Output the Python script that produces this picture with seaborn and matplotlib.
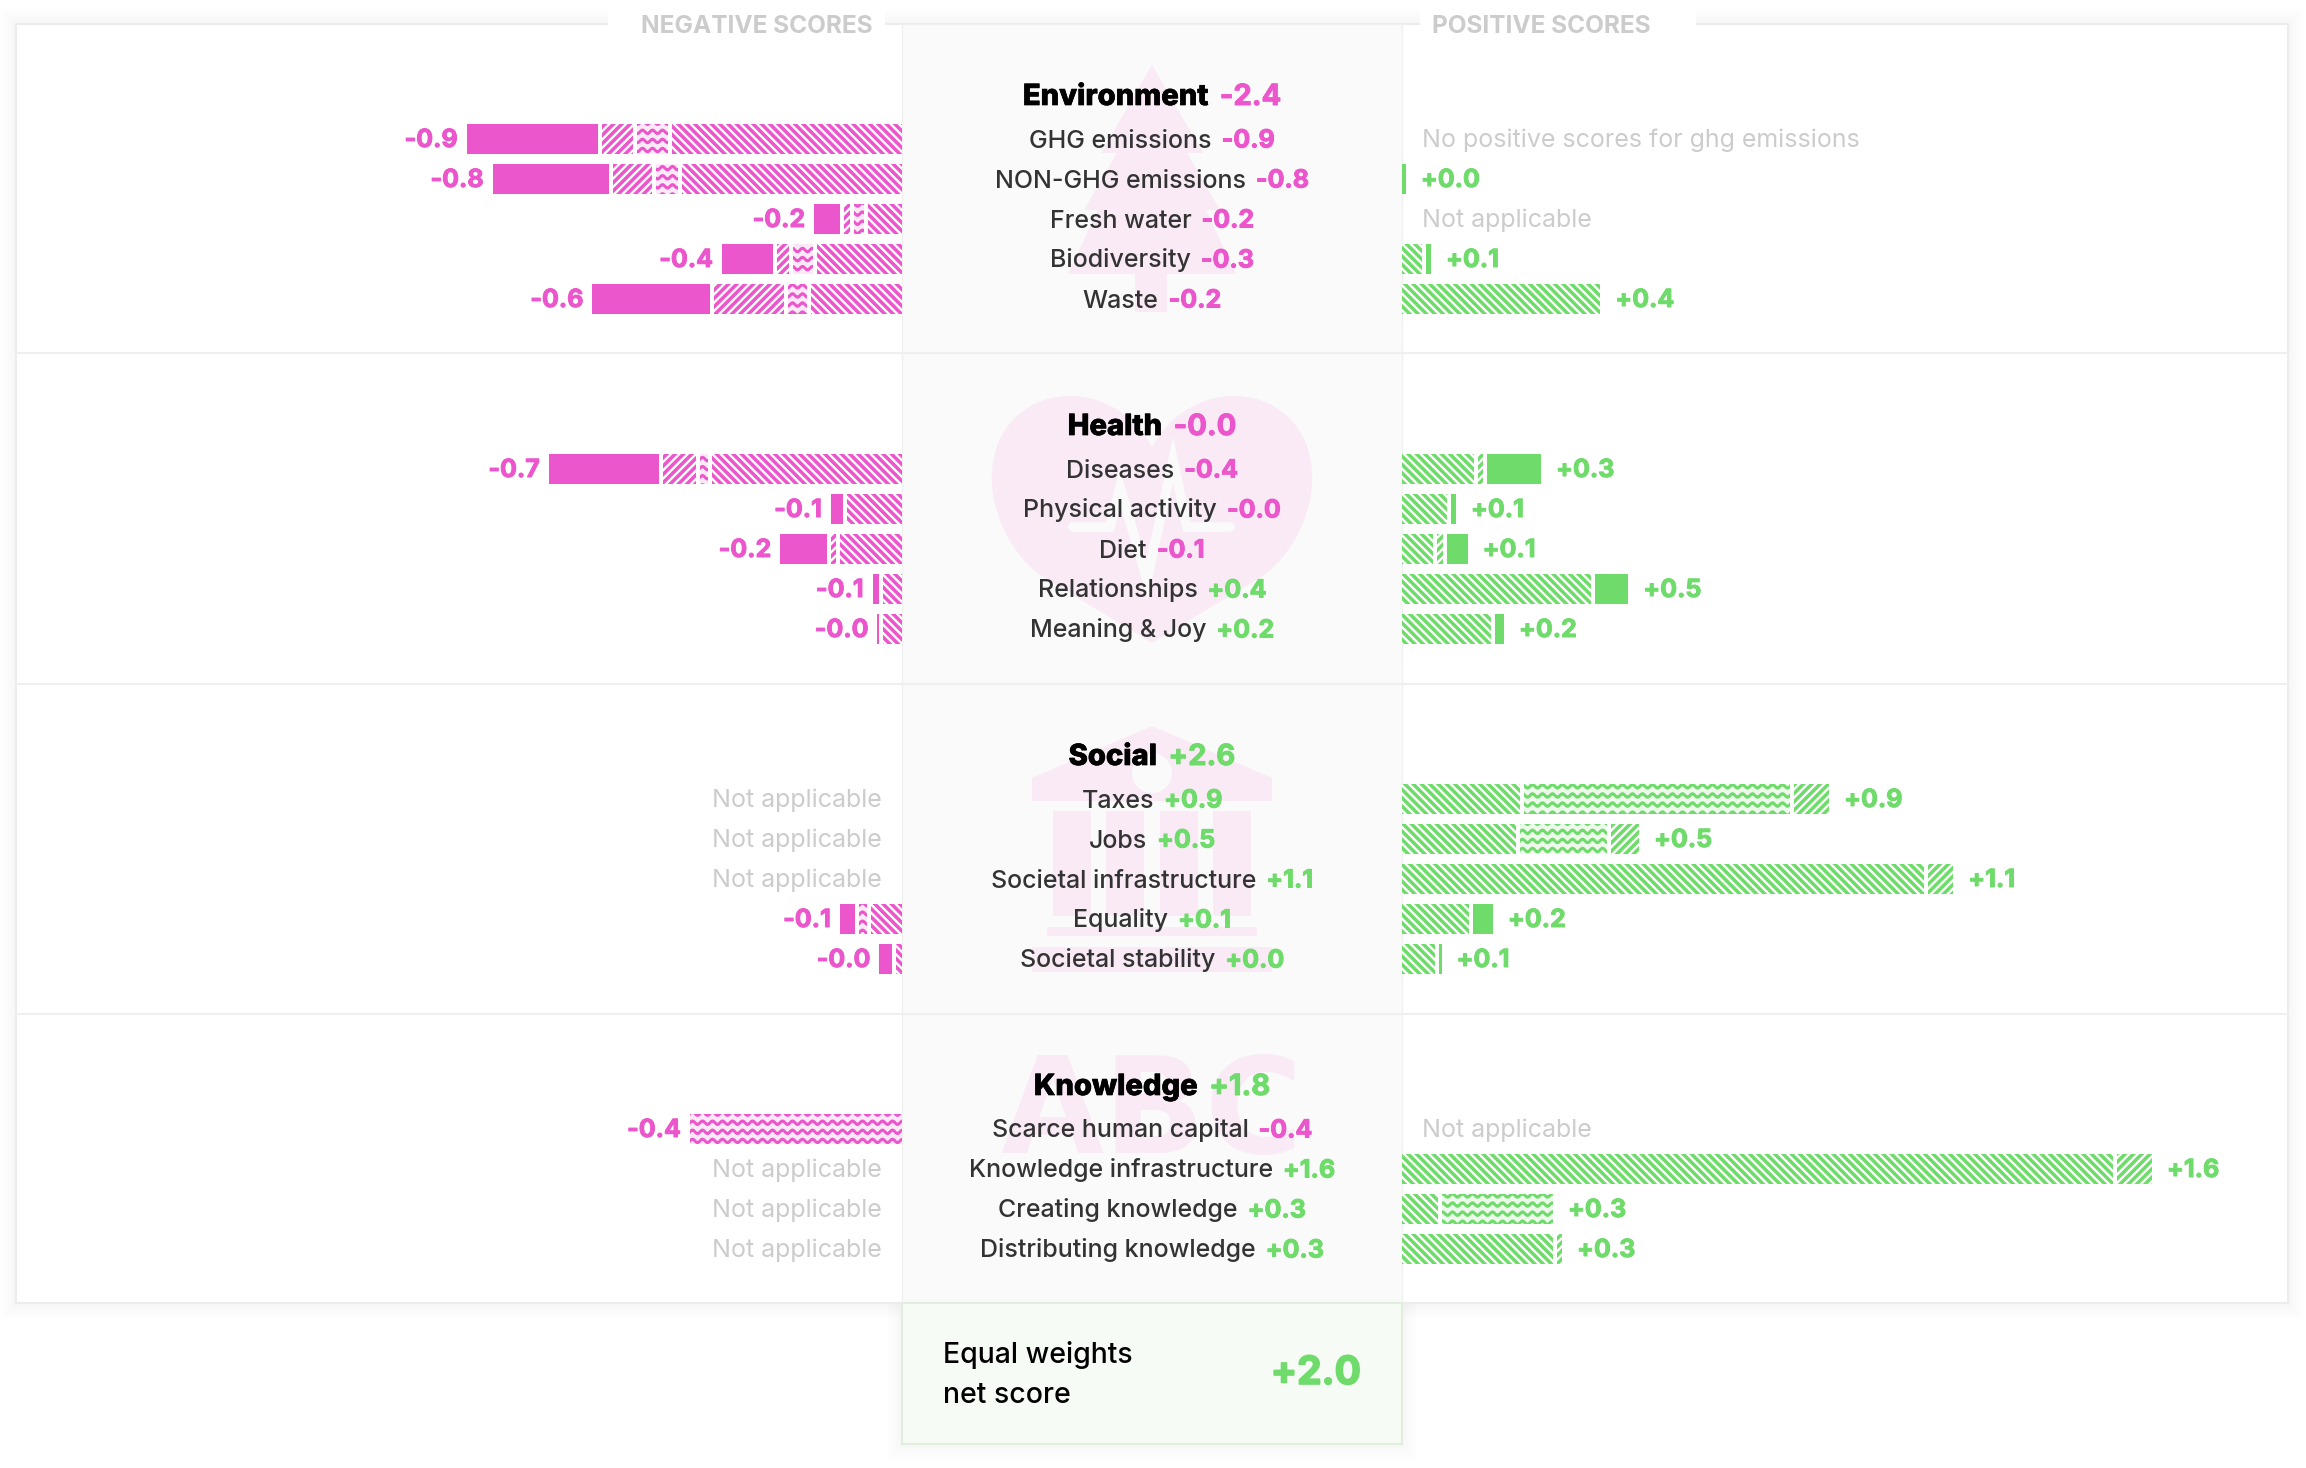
import numpy as np
import seaborn as sns
import matplotlib.pyplot as plt
import matplotlib.hatch as mhatch
import matplotlib.patheffects as pe
from matplotlib.patches import Polygon, Rectangle, Circle, PathPatch
from matplotlib.path import Path

# Chart values
group_names = ['Environment', 'Health', 'Social', 'Knowledge']
group_scores = ['-2.4', '-0.0', '+2.6', '+1.8']

measures = [
    ['GHG emissions', 'NON-GHG emissions', 'Fresh water', 'Biodiversity', 'Waste'],
    ['Diseases', 'Physical activity', 'Diet', 'Relationships', 'Meaning & Joy'],
    ['Taxes', 'Jobs', 'Societal infrastructure', 'Equality', 'Societal stability'],
    ['Scarce human capital', 'Knowledge infrastructure', 'Creating knowledge', 'Distributing knowledge'],
]
net_scores = [
    ['-0.9', '-0.8', '-0.2', '-0.3', '-0.2'],
    ['-0.4', '-0.0', '-0.1', '+0.4', '+0.2'],
    ['+0.9', '+0.5', '+1.1', '+0.1', '+0.0'],
    ['-0.4', '+1.6', '+0.3', '+0.3'],
]
neg_labels = [
    ['-0.9', '-0.8', '-0.2', '-0.4', '-0.6'],
    ['-0.7', '-0.1', '-0.2', '-0.1', '-0.0'],
    ['Not applicable', 'Not applicable', 'Not applicable', '-0.1', '-0.0'],
    ['-0.4', 'Not applicable', 'Not applicable', 'Not applicable'],
]
pos_labels = [
    ['No positive scores for ghg emissions', '+0.0', 'Not applicable', '+0.1', '+0.4'],
    ['+0.3', '+0.1', '+0.1', '+0.5', '+0.2'],
    ['+0.9', '+0.5', '+1.1', '+0.2', '+0.1'],
    ['Not applicable', '+1.6', '+0.3', '+0.3'],
]

# Negative segments, stacked outwards from the panel
neg_back = [
    [.479, .458, .071, .177, .190],
    [.396, .115, .129, .040, .039],
    [0, 0, 0, .065, .013],
    [0, 0, 0, 0],
]
neg_wave = [
    [.065, .047, .021, .042, .040],
    [.017, 0, 0, 0, 0],
    [0, 0, 0, .017, 0],
    [.442, 0, 0, 0],
]
neg_fwd = [
    [.065, .081, .013, .025, .146],
    [.069, 0, .010, 0, 0],
    [0, 0, 0, 0, 0],
    [0, 0, 0, 0],
]
neg_solid = [
    [.273, .242, .053, .106, .244],
    [.229, .025, .098, .013, .004],
    [0, 0, 0, .031, .026],
    [0, 0, 0, 0],
]

# Positive segments
pos_back = [
    [0, 0, 0, .042, .413],
    [.150, .094, .065, .394, .185],
    [.246, .238, 1.088, .139, .069],
    [0, 1.481, .075, .315],
]
pos_wave = [
    [0, 0, 0, 0, 0],
    [0, 0, 0, 0, 0],
    [.554, .181, 0, 0, 0],
    [0, 0, .231, 0],
]
pos_fwd = [
    [0, 0, 0, 0, 0],
    [.011, 0, .013, 0, 0],
    [.073, .058, .052, 0, 0],
    [0, .073, 0, .010],
]
pos_solid = [
    [0, .008, 0, .010, 0],
    [.112, .010, .042, .069, .019],
    [0, 0, 0, .042, .005],
    [0, 0, 0, 0],
]

# Colours and layout (pixels)
PINK = '#ec56cc'
GREEN = '#6edb6a'
PALE_PINK = '#fbe9f8'
PALE_GREEN = '#ecf9eb'
ICON = '#f9eaf6'
GREY = '#cccccc'
TEXT = '#333333'
W, H = 2306, 1468
FRAME = (16, 24, 2288, 1303)
PANEL_L, PANEL_R = 902, 1402
MID = (PANEL_L + PANEL_R) / 2
SECTION_TOPS = [119, 449, 779, 1109]
DIVIDERS = [353, 684, 1014]
ROW_PX = 40
PX_PER_UNIT = 480
GAP = 4 / PX_PER_UNIT
BASE = 8  # text baseline below the row centre
LABEL_SIZE = 18

sns.set_theme(style='white')
plt.rcParams['font.family'] = ['Inter', 'DejaVu Sans']
plt.rcParams['hatch.linewidth'] = 1.8


# Matplotlib has no wavy hatch, so register one (takes the place of 'O')
class WaveHatch(mhatch.HatchPatternBase):
    rows = 11
    periods = 10
    steps = 120

    def __init__(self, hatch, density):
        self.on = hatch.count('O') > 0
        self.num_vertices = (self.steps + 1) * self.rows if self.on else 0

    def set_vertices_and_codes(self, vertices, codes):
        t = np.linspace(0, 1, self.steps + 1)
        for i in range(self.rows):
            start = i * (self.steps + 1)
            vertices[start:start + self.steps + 1, 0] = t
            vertices[start:start + self.steps + 1, 1] = (i + .5) / self.rows + .018 * np.sin(2 * np.pi * self.periods * t)
            codes[start:start + self.steps + 1] = Path.LINETO
            codes[start] = Path.MOVETO


mhatch._hatch_types = [h for h in mhatch._hatch_types if h is not mhatch.LargeCircles] + [WaveHatch]


def px_axes(left, top, right, bottom):
    return fig.add_axes([left / W, 1 - bottom / H, (right - left) / W, (bottom - top) / H])


def shadow(ax, x0, y0, x1, y1, size=16):
    for p in range(size, 0, -2):
        ax.add_patch(Rectangle((x0 - p, y0 - p), x1 - x0 + 2 * p, y1 - y0 + 2 * p,
                               fc='black', ec='none', alpha=.0035, zorder=1))


def fat(color, width=.7):
    # the reference numbers are heavier than the installed bold
    return [pe.withStroke(linewidth=width, foreground=color)]


def tail_text(ax, y, label, value, size, head_color, weight):
    # label and value centred together on the panel
    renderer = fig.canvas.get_renderer()
    color = PINK if value[0] == '-' else GREEN
    a = ax.text(0, y, label, fontsize=size, color=head_color, weight=weight, va='baseline', zorder=6)
    b = ax.text(0, y, value, fontsize=size, color=color, weight='bold', va='baseline', zorder=6,
                path_effects=fat(color))
    wa = a.get_window_extent(renderer).width
    wb = b.get_window_extent(renderer).width
    space = size * .55
    start = MID - (wa + wb + space) / 2
    a.set_x(start)
    b.set_x(start + wa + space)
    if weight == 'heavy':
        a.set_path_effects(fat(head_color, .5))


fig = plt.figure(figsize=(W / 100, H / 100), dpi=100, facecolor='white')

# Background layer in pixel coordinates: frame, panel, icons, texts
bg = fig.add_axes([0, 0, 1, 1], zorder=0)
bg.set_xlim(0, W)
bg.set_ylim(H, 0)
bg.set_axis_off()

shadow(bg, FRAME[0], FRAME[1], FRAME[2], FRAME[3])
shadow(bg, PANEL_L, FRAME[3], PANEL_R, 1444)
bg.add_patch(Rectangle((FRAME[0], FRAME[1]), FRAME[2] - FRAME[0], FRAME[3] - FRAME[1],
                       fc='white', ec='#ececec', lw=1.5, zorder=2))
bg.add_patch(Rectangle((608, 6), 277, 34, fc='white', ec='none', zorder=3))
bg.add_patch(Rectangle((1420, 6), 276, 34, fc='white', ec='none', zorder=3))
bg.add_patch(Rectangle((PANEL_L, FRAME[1]), PANEL_R - PANEL_L, FRAME[3] - FRAME[1],
                       fc='#fafafa', ec='#f0f0f0', lw=1, zorder=3))
for y in DIVIDERS:
    bg.plot([FRAME[0], FRAME[2]], [y, y], color='#efefef', lw=1.5, zorder=4)
bg.add_patch(Rectangle((PANEL_L, FRAME[3]), PANEL_R - PANEL_L, 1444 - FRAME[3],
                       fc='#f6fbf5', ec='#dfeedd', lw=1.5, zorder=3))

# Tree
bg.add_patch(Polygon([(1152, 65), (1101, 153), (1117, 153), (1084, 210), (1098, 210), (1068, 274),
                      (1135, 274), (1135, 312), (1167, 312), (1167, 274), (1236, 274),
                      (1206, 210), (1220, 210), (1187, 153), (1203, 153)], fc=ICON, ec='none', zorder=4))
# Heart with pulse line
heart = Path([(1152, 447), (1120, 387), (1040, 378), (1005, 430), (975, 478), (1000, 545), (1040, 575),
              (1152, 643), (1152, 643), (1264, 575), (1304, 545), (1329, 478), (1299, 430), (1264, 378), (1184, 387), (1152, 447)],
             [Path.MOVETO] + [Path.CURVE4] * 6 + [Path.LINETO, Path.LINETO, Path.LINETO] + [Path.CURVE4] * 6)
bg.add_patch(PathPatch(heart, fc=ICON, ec='none', zorder=4))
bg.plot([1073, 1110, 1120, 1147, 1173, 1187, 1230], [527, 527, 487, 580, 460, 527, 527],
        color='#fafafa', lw=7, solid_joinstyle='miter', zorder=4.5)
# Building
bg.add_patch(Polygon([(1152, 726), (1032, 778), (1032, 801), (1272, 801), (1272, 778)], fc=ICON, ec='none', zorder=4))
bg.add_patch(Circle((1152, 773), 20, fc='#fafafa', ec='none', zorder=4.5))
for x0 in (1053, 1106, 1160, 1213):
    bg.add_patch(Rectangle((x0, 811), 38, 105, fc=ICON, ec='none', zorder=4))
bg.add_patch(Rectangle((1047, 927), 210, 9, fc=ICON, ec='none', zorder=4))
bg.add_patch(Rectangle((1032, 947), 240, 25, fc=ICON, ec='none', zorder=4))
# ABC
bg.text(MID, 1153, 'ABC', fontsize=96, family='DejaVu Sans', weight='bold', color=ICON,
        ha='center', va='baseline', zorder=4)

# Column heads
bg.text(757, 33, 'NEGATIVE SCORES', fontsize=17.6, weight='bold', color=GREY, ha='center', va='baseline', zorder=6)
bg.text(1432, 33, 'POSITIVE SCORES', fontsize=17.6, weight='bold', color=GREY, ha='left', va='baseline', zorder=6)

# Net score box
bg.text(943, 1363, 'Equal weights', fontsize=20.5, color='black', weight='medium', va='baseline', zorder=6)
bg.text(943, 1403, 'net score', fontsize=20.5, color='black', weight='medium', va='baseline', zorder=6)
bg.text(1361, 1384, '+2.0', fontsize=28, color=GREEN, weight='bold', ha='right', va='baseline', zorder=6,
        path_effects=fat(GREEN, 1.2))

# Segment styles: hatch, face, hatch colour, hatch line width
neg_styles = [('\\\\\\\\', PINK, 'white', 1.7), ('O', PALE_PINK, PINK, 2.1), ('////', PINK, 'white', 1.7), (None, PINK, PINK, 0)]
pos_styles = [('\\\\\\\\', GREEN, 'white', 1.7), ('O', PALE_GREEN, GREEN, 2.1), ('////', GREEN, 'white', 1.7), (None, GREEN, GREEN, 0)]


def stacked(ax, labels, segments, styles):
    left = np.zeros(len(labels))
    for values, (hatch, face, edge, lw) in zip(segments, styles):
        values = np.array(values, dtype=float)
        before = len(ax.patches)
        sns.barplot(x=values, y=labels, order=labels, orient='h', left=left, width=.75, ax=ax,
                    color=face, saturation=1, edgecolor=edge, hatch=hatch, linewidth=0, errorbar=None)
        if hatch and hasattr(ax.patches[0], 'set_hatch_linewidth'):
            for bar in ax.patches[before:]:
                bar.set_hatch_linewidth(lw)
        left = left + values + GAP * (values > 0)
    return left - GAP


for s, labels in enumerate(measures):
    top = SECTION_TOPS[s]
    bottom = top + ROW_PX * len(labels)

    ax_neg = px_axes(FRAME[0], top, PANEL_L, bottom)
    ax_pos = px_axes(PANEL_R, top, FRAME[2], bottom)
    span = (PANEL_L - FRAME[0]) / PX_PER_UNIT

    neg_end = stacked(ax_neg, labels, [neg_back[s], neg_wave[s], neg_fwd[s], neg_solid[s]], neg_styles)
    pos_end = stacked(ax_pos, labels, [pos_back[s], pos_wave[s], pos_fwd[s], pos_solid[s]], pos_styles)

    ax_neg.set_xlim(span, 0)
    ax_pos.set_xlim(0, span)
    for ax in (ax_neg, ax_pos):
        ax.set_ylim(len(labels) - .5, -.5)
        ax.set_axis_off()
        ax.patch.set_alpha(0)
        ax.set_zorder(2)

    for i, label in enumerate(labels):
        n = neg_labels[s][i]
        p = pos_labels[s][i]
        if n[0] == '-':
            ax_neg.annotate(n, (neg_end[i], i), xytext=(-9, -BASE), textcoords='offset pixels', ha='right',
                            va='baseline', fontsize=LABEL_SIZE, weight='bold', color=PINK, path_effects=fat(PINK))
        else:
            ax_neg.annotate(n, (0, i), xytext=(-20, -BASE), textcoords='offset pixels', ha='right',
                            va='baseline', fontsize=LABEL_SIZE, color=GREY)
        if p[0] == '+':
            ax_pos.annotate(p, (pos_end[i], i), xytext=(15, -BASE), textcoords='offset pixels', ha='left',
                            va='baseline', fontsize=LABEL_SIZE, weight='bold', color=GREEN, path_effects=fat(GREEN))
        else:
            ax_pos.annotate(p, (0, i), xytext=(20, -BASE), textcoords='offset pixels', ha='left',
                            va='baseline', fontsize=LABEL_SIZE, color=GREY)

        tail_text(bg, top + ROW_PX * i + 20 + BASE + .5, label, net_scores[s][i], LABEL_SIZE, TEXT, 'medium')

    tail_text(bg, top + 20 + BASE - 42, group_names[s], group_scores[s], 21, 'black', 'heavy')

fig.savefig('out.png', dpi=100)
